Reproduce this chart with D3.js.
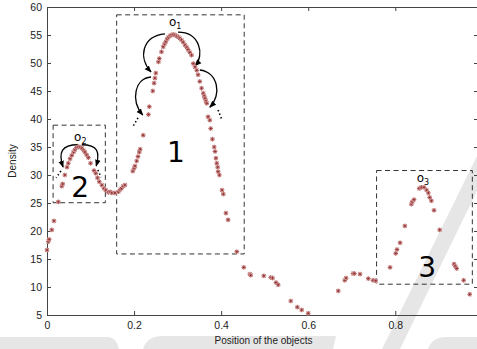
<!DOCTYPE html>
<html>
<head>
<meta charset="utf-8">
<script src="https://cdn.jsdelivr.net/npm/d3@7/dist/d3.min.js"></script>
<style>
  body { margin: 0; background: #fff; }
  svg { display: block; font-family: "Liberation Sans", Arial, sans-serif; }
</style>
</head>
<body>
<svg id="chart"></svg>
<script>
// Density values (position, density)
var positions = [0.000, 0.003, 0.005, 0.011, 0.016, 0.026, 0.034, 0.036, 0.041, 0.046,
  0.049, 0.053, 0.057, 0.061, 0.064, 0.068, 0.072, 0.076, 0.080, 0.084,
  0.087, 0.091, 0.095, 0.100, 0.108, 0.112, 0.116, 0.120, 0.126, 0.131,
  0.135, 0.141, 0.145, 0.149, 0.156, 0.164, 0.168, 0.171, 0.175, 0.179,
  0.197, 0.200, 0.202, 0.206, 0.209, 0.212, 0.214, 0.221, 0.233, 0.235,
  0.243, 0.246, 0.248, 0.250, 0.256, 0.258, 0.263, 0.267, 0.270, 0.273,
  0.276, 0.279, 0.283, 0.286, 0.290, 0.294, 0.298, 0.302, 0.305, 0.309,
  0.313, 0.317, 0.321, 0.324, 0.328, 0.332, 0.336, 0.340, 0.344, 0.347,
  0.351, 0.355, 0.359, 0.361, 0.363, 0.365, 0.367, 0.370, 0.374, 0.376,
  0.380, 0.384, 0.386, 0.388, 0.390, 0.392, 0.393, 0.396, 0.402, 0.405,
  0.411, 0.416, 0.436, 0.452, 0.466, 0.468, 0.498, 0.514, 0.518, 0.526,
  0.531, 0.560, 0.575, 0.585, 0.600, 0.669, 0.684, 0.687, 0.703, 0.706,
  0.719, 0.738, 0.749, 0.755, 0.788, 0.801, 0.804, 0.811, 0.822, 0.837,
  0.839, 0.843, 0.855, 0.860, 0.866, 0.872, 0.876, 0.879, 0.883, 0.889,
  0.902, 0.935, 0.938, 0.941, 0.957, 0.971];
var densities = [16.6, 18.1, 18.5, 20.2, 21.8, 25.2, 28.0, 28.4, 30.0, 31.4,
  32.1, 32.9, 33.5, 34.1, 34.5, 34.9, 35.05, 35.0, 34.8, 34.4,
  34.1, 33.6, 33.1, 32.1, 30.8, 30.3, 29.5, 28.8, 28.2, 27.6,
  27.3, 26.9, 27.0, 26.8, 26.8, 27.0, 27.4, 27.6, 28.0, 28.2,
  30.7, 31.2, 31.6, 32.5, 33.3, 34.1, 34.6, 37.1, 40.8, 42.2,
  45.0, 46.4, 47.3, 48.2, 50.2, 50.8, 52.0, 52.9, 53.4, 53.8,
  54.3, 54.6, 54.9, 55.0, 55.1, 55.0, 54.8, 54.6, 54.4, 54.1,
  53.7, 53.2, 52.8, 52.4, 51.9, 51.4, 49.9, 49.3, 48.7, 47.9,
  46.7, 45.5, 44.6, 44.1, 43.7, 43.2, 42.8, 40.4, 39.8, 38.3,
  36.4, 35.0, 34.2, 33.0, 32.1, 31.4, 30.6, 30.0, 27.3, 26.6,
  23.2, 22.0, 16.3, 13.5, 12.3, 12.1, 12.0, 11.7, 11.6, 10.8,
  10.4, 7.5, 6.4, 5.9, 5.3, 9.3, 11.2, 11.6, 12.4, 12.4,
  12.3, 11.5, 11.2, 11.1, 13.5, 16.0, 16.7, 17.9, 20.9, 24.8,
  25.2, 25.6, 27.6, 27.8, 27.8, 27.3, 26.8, 26.0, 25.4, 23.7,
  20.2, 14.1, 13.7, 13.3, 11.2, 8.7];

var xTicks = [0, 0.2, 0.4, 0.6, 0.8];
var xTickLabels = ["0", "0.2", "0.4", "0.6", "0.8"];
var yTicks = [5, 10, 15, 20, 25, 30, 35, 40, 45, 50, 55, 60];

// Annotations, in data units: dashed cluster boxes [x0, y0, x1, y1]
var clusterBoxes = [[0.160, 58.6, 0.453, 15.9], [0.014, 38.9, 0.134, 25.05], [0.757, 30.8, 0.977, 10.5]];
var clusterNames = ["1", "2", "3"];
var clusterNamePos = [[0.296, 32.4], [0.076, 26.1], [0.873, 11.8]];
var peakNames = ["1", "2", "3"];
var peakNamePos = [[0.287, 56.6], [0.069, 36.1], [0.856, 28.7]];
// Curved arrows: start, control 1, control 2, end
var arrows = [
  [[0.271, 55.2], [0.218, 54.8], [0.209, 50.9], [0.239, 48.4]],
  [[0.301, 55.5], [0.351, 55.5], [0.363, 51.4], [0.340, 49.5]],
  [[0.239, 47.5], [0.202, 47.3], [0.191, 43.4], [0.220, 40.7]],
  [[0.351, 48.75], [0.393, 48.4], [0.402, 44.3], [0.374, 42.1]],
  [[0.071, 35.4], [0.034, 35.4], [0.025, 34.1], [0.037, 31.4]],
  [[0.080, 35.4], [0.117, 35.4], [0.122, 34.1], [0.113, 31.6]]
];
var dotTrails = [
  [[0.209, 40.2], [0.197, 38.6]], [[0.393, 41.6], [0.402, 39.8]],
  [[0.032, 30.7], [0.021, 29.5]], [[0.117, 30.9], [0.124, 29.6]]
];

var width = 477, height = 349;
var margin = { top: 7, left: 47, bottom: 34 };
var plotRight = 478;

var svg = d3.select("#chart").attr("width", width).attr("height", height);

var x = d3.scaleLinear().domain([0, 0.99]).range([margin.left, plotRight]);
var y = d3.scaleLinear().domain([5, 60]).range([height - margin.bottom, margin.top]);

// Light grey watermark shapes behind the chart
var wm = svg.append("g").attr("fill", "#e6e6e6");
wm.append("path").attr("d", "M0,337 L108,337 Q116,337 119,349 L0,349 Z");
wm.append("path").attr("d", "M143,349 Q147,336 163,336 L336,336 L333,349 Z");
wm.append("path").attr("d", "M480,150 L497,150 L400,349 L382,349 Z");
wm.append("path").attr("d", "M428,349 Q432,337 446,337 L477,337 L477,349 Z");

// Axes with inward ticks on all four sides
var axisColor = "#444";
var gx = svg.append("g")
    .attr("transform", "translate(0," + y(5) + ")")
    .call(d3.axisBottom(x).tickValues(xTicks)
      .tickFormat(function(d, i) { return xTickLabels[i]; })
      .tickSizeInner(-4).tickSizeOuter(0).tickPadding(7));
var gxt = svg.append("g")
    .attr("transform", "translate(0," + y(60) + ")")
    .call(d3.axisTop(x).tickValues(xTicks).tickFormat("")
      .tickSizeInner(-4).tickSizeOuter(0));
var gy = svg.append("g")
    .attr("transform", "translate(" + x(0) + ",0)")
    .call(d3.axisLeft(y).tickValues(yTicks)
      .tickSizeInner(-4).tickSizeOuter(0).tickPadding(5));
var gyr = svg.append("g")
    .attr("transform", "translate(" + plotRight + ",0)")
    .call(d3.axisRight(y).tickValues(yTicks).tickFormat("")
      .tickSizeInner(-4).tickSizeOuter(0));

[gx, gxt, gy, gyr].forEach(function(g) {
  g.selectAll("path, line").attr("stroke", axisColor);
  g.selectAll("text").attr("fill", "#222").style("font-size", "10.5px")
    .style("font-family", "'Liberation Sans', Arial, sans-serif");
});

svg.append("text")
    .attr("x", (margin.left + 480) / 2)
    .attr("y", 344)
    .attr("text-anchor", "middle")
    .style("font-size", "10px")
    .attr("fill", "#222")
    .text("Position of the objects");

svg.append("text")
    .attr("transform", "translate(16," + (y(32.5)) + ") rotate(-90)")
    .attr("text-anchor", "middle")
    .style("font-size", "10px")
    .attr("fill", "#222")
    .text("Density");

// Dashed cluster boxes
svg.selectAll(".cluster")
    .data(clusterBoxes)
  .enter().append("rect")
    .attr("class", "cluster")
    .attr("x", function(d) { return x(d[0]); })
    .attr("y", function(d) { return y(d[1]); })
    .attr("width", function(d) { return x(d[2]) - x(d[0]); })
    .attr("height", function(d) { return y(d[3]) - y(d[1]); })
    .attr("fill", "none")
    .attr("stroke", "#333")
    .attr("stroke-dasharray", "5,3.5");

// Arrow head marker
svg.append("defs").append("marker")
    .attr("id", "head")
    .attr("viewBox", "0 0 10 10")
    .attr("refX", 9).attr("refY", 5)
    .attr("markerUnits", "userSpaceOnUse")
    .attr("markerWidth", 7).attr("markerHeight", 7)
    .attr("orient", "auto")
  .append("path")
    .attr("d", "M0,1 L10,5 L0,9 Z")
    .attr("fill", "#000");

svg.selectAll(".arrow")
    .data(arrows)
  .enter().append("path")
    .attr("class", "arrow")
    .attr("d", function(d) {
      var p = d.map(function(c) { return [x(c[0]), y(c[1])]; });
      return "M" + p[0] + " C" + p[1] + " " + p[2] + " " + p[3];
    })
    .attr("fill", "none")
    .attr("stroke", "#000")
    .attr("stroke-width", 1.3)
    .attr("marker-end", "url(#head)");

svg.selectAll(".trail")
    .data(dotTrails)
  .enter().append("line")
    .attr("class", "trail")
    .attr("x1", function(d) { return x(d[0][0]); })
    .attr("y1", function(d) { return y(d[0][1]); })
    .attr("x2", function(d) { return x(d[1][0]); })
    .attr("y2", function(d) { return y(d[1][1]); })
    .attr("stroke", "#000")
    .attr("stroke-width", 1.6)
    .attr("stroke-dasharray", "1.4,2.4");

// Data points, drawn as gnuplot style asterisks with a faint pink halo
var star = "M-2.3,0H2.3M0,-2.3V2.3M-1.7,-1.7L1.7,1.7M-1.7,1.7L1.7,-1.7";
var pts = svg.selectAll(".pt")
    .data(positions)
  .enter().append("g")
    .attr("class", "pt")
    .attr("transform", function(d, i) { return "translate(" + x(d) + "," + y(densities[i]) + ")"; });
pts.append("path")
    .attr("d", star)
    .attr("fill", "none")
    .attr("stroke", "#ebc4c4")
    .attr("stroke-width", 1.2);
pts.append("path")
    .attr("d", star)
    .attr("fill", "none")
    .attr("stroke", "#8a2222")
    .attr("stroke-width", 0.6);

// Cluster numbers
svg.selectAll(".cname")
    .data(clusterNames)
  .enter().append("text")
    .attr("class", "cname")
    .attr("x", function(d, i) { return x(clusterNamePos[i][0]); })
    .attr("y", function(d, i) { return y(clusterNamePos[i][1]); })
    .attr("text-anchor", "middle")
    .style("font-family", "'DejaVu Sans', sans-serif")
    .style("font-size", "28px")
    .attr("fill", "#000")
    .text(function(d) { return d; });

// Peak labels o1, o2, o3
var pk = svg.selectAll(".pname")
    .data(peakNames)
  .enter().append("text")
    .attr("class", "pname")
    .attr("x", function(d, i) { return x(peakNamePos[i][0]) - 3; })
    .attr("y", function(d, i) { return y(peakNamePos[i][1]); })
    .style("font-family", "'DejaVu Sans', sans-serif")
    .attr("fill", "#000");
pk.append("tspan").style("font-size", "12px").text("o");
pk.append("tspan").attr("dy", 3).style("font-size", "8px").text(function(d) { return d; });
</script>
</body>
</html>
